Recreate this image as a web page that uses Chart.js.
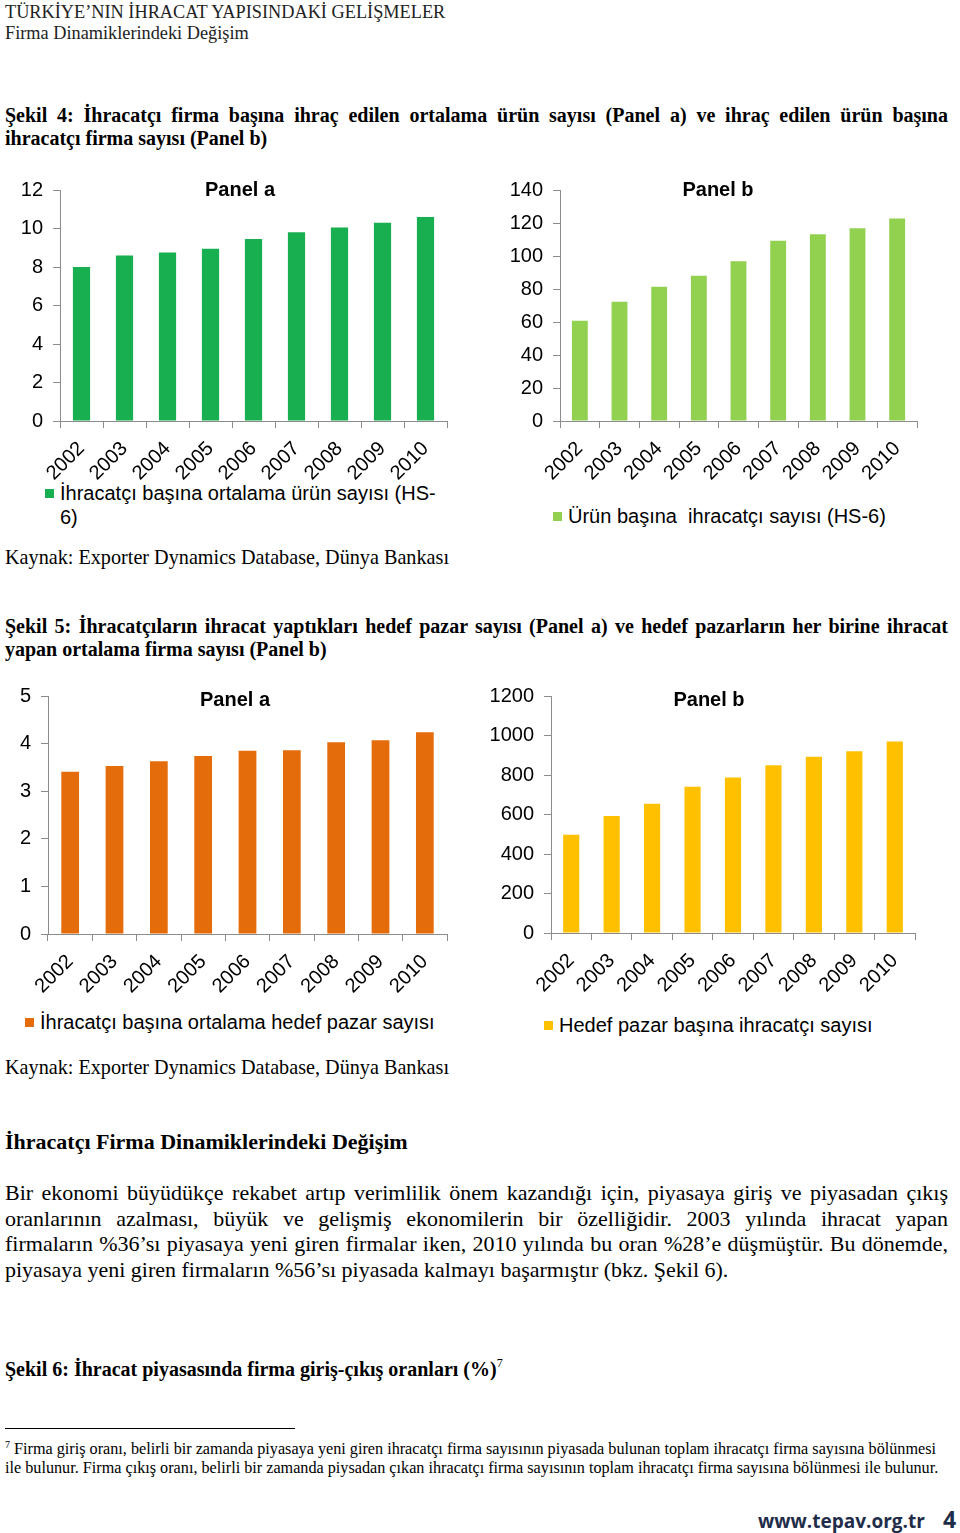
<!DOCTYPE html>
<html lang="tr">
<head>
<meta charset="utf-8">
<title>TÜRKİYE’NIN İHRACAT YAPISINDAKİ GELİŞMELER</title>
<script src="https://cdn.jsdelivr.net/npm/chart.js@4.4.1/dist/chart.umd.min.js"></script>
<style>
  html, body { margin: 0; padding: 0; background: #fff; }
  body { width: 960px; height: 1533px; position: relative; overflow: hidden; font-family: "Liberation Serif", "Times New Roman", serif; color: #000; }
  .abs { position: absolute; white-space: nowrap; }
  .hdr { font-size: 18.3px; line-height: 21px; color: #222; }
  .cap { font-size: 20px; line-height: 23px; font-weight: bold; left: 5px; width: 943px; }
  .just { text-align: justify; text-align-last: justify; }
  .src { font-size: 20.2px; line-height: 24px; left: 5px; }
  .para { font-size: 22px; line-height: 25.6px; left: 5px; width: 943px; }
  .foot { font-size: 16.2px; line-height: 19px; left: 5px; }
  .ptitle { font-family: "Liberation Sans", Arial, sans-serif; font-weight: bold; font-size: 20px; line-height: 22px; transform: translateX(-50%); }
  .leg { font-family: "Liberation Sans", Arial, sans-serif; font-size: 20px; line-height: 24px; white-space: pre; }
  .sw { position: absolute; width: 9px; height: 9px; }
  canvas { position: absolute; }
</style>
</head>
<body>
<div class="abs hdr" style="left:5px; top:2px;">TÜRKİYE’NIN İHRACAT YAPISINDAKİ GELİŞMELER</div>
<div class="abs hdr" style="left:5px; top:23px;">Firma Dinamiklerindeki Değişim</div>

<div class="abs cap just" style="top:104px;">Şekil 4: İhracatçı firma başına ihraç edilen ortalama ürün sayısı (Panel a) ve ihraç edilen ürün başına</div>
<div class="abs cap" style="top:127px;">ihracatçı firma sayısı (Panel b)</div>

<canvas id="c1" width="480" height="314" style="left:0px; top:167px;"></canvas>
<canvas id="c2" width="480" height="314" style="left:480px; top:167px;"></canvas>
<div class="abs ptitle" style="left:240px; top:178px;">Panel a</div>
<div class="abs ptitle" style="left:718px; top:178px;">Panel b</div>

<div class="sw" style="left:45px; top:489px; background:#17AF4F;"></div>
<div class="abs leg" style="left:60px; top:481px;">İhracatçı başına ortalama ürün sayısı (HS-<br>6)</div>
<div class="sw" style="left:553px; top:512px; background:#92D050;"></div>
<div class="abs leg" style="left:568px; top:504px;">Ürün başına  ihracatçı sayısı (HS-6)</div>

<div class="abs src" style="top:545px;">Kaynak: Exporter Dynamics Database, Dünya Bankası</div>

<div class="abs cap just" style="top:615px;">Şekil 5: İhracatçıların ihracat yaptıkları hedef pazar sayısı (Panel a) ve hedef pazarların her birine ihracat</div>
<div class="abs cap" style="top:638px;">yapan ortalama firma sayısı (Panel b)</div>

<canvas id="c3" width="480" height="321" style="left:0px; top:673px;"></canvas>
<canvas id="c4" width="480" height="320" style="left:480px; top:673px;"></canvas>
<div class="abs ptitle" style="left:235px; top:688px;">Panel a</div>
<div class="abs ptitle" style="left:709px; top:688px;">Panel b</div>

<div class="sw" style="left:25px; top:1018px; background:#E46C0A;"></div>
<div class="abs leg" style="left:40px; top:1010px;">İhracatçı başına ortalama hedef pazar sayısı</div>
<div class="sw" style="left:544px; top:1021px; background:#FFC000;"></div>
<div class="abs leg" style="left:559px; top:1013px;">Hedef pazar başına ihracatçı sayısı</div>

<div class="abs src" style="top:1055px;">Kaynak: Exporter Dynamics Database, Dünya Bankası</div>

<div class="abs" style="left:5px; top:1129px; font-size:22px; line-height:26px; font-weight:bold;">İhracatçı Firma Dinamiklerindeki Değişim</div>

<div class="abs para just" style="top:1180px;">Bir ekonomi büyüdükçe rekabet artıp verimlilik önem kazandığı için, piyasaya giriş ve piyasadan çıkış</div>
<div class="abs para just" style="top:1205.6px;">oranlarının azalması, büyük ve gelişmiş ekonomilerin bir özelliğidir. 2003 yılında ihracat yapan</div>
<div class="abs para just" style="top:1231.2px;">firmaların %36’sı piyasaya yeni giren firmalar iken, 2010 yılında bu oran %28’e düşmüştür. Bu dönemde,</div>
<div class="abs para" style="top:1256.8px;">piyasaya yeni giren firmaların %56’sı piyasada kalmayı başarmıştır (bkz. Şekil 6).</div>

<div class="abs cap" style="top:1358px;">Şekil 6: İhracat piyasasında firma giriş-çıkış oranları (%)<sup style="font-size:12px; font-weight:normal; vertical-align:9px; line-height:0;">7</sup></div>

<div style="position:absolute; left:5px; top:1428px; width:290px; height:1px; background:#000;"></div>
<div class="abs foot" style="top:1440px;"><sup style="font-size:10px; vertical-align:6px; line-height:0;">7</sup> Firma giriş oranı, belirli bir zamanda piyasaya yeni giren ihracatçı firma sayısının piyasada bulunan toplam ihracatçı firma sayısına bölünmesi</div>
<div class="abs foot" style="top:1459px;">ile bulunur. Firma çıkış oranı, belirli bir zamanda piysadan çıkan ihracatçı firma sayısının toplam ihracatçı firma sayısına bölünmesi ile bulunur.</div>

<div class="abs" style="left:758px; top:1508px; font-family:'Open Sans','Liberation Sans',sans-serif; font-weight:bold; font-size:19px; line-height:26px; color:#1F2D4A;">www.tepav.org.tr</div>
<div class="abs" style="left:943px; top:1504px; font-family:'Open Sans','Liberation Sans',sans-serif; font-weight:bold; font-size:23px; line-height:30px; color:#1F2D4A;">4</div>

<script>
// ---- data ----
const years = ['2002', '2003', '2004', '2005', '2006', '2007', '2008', '2009', '2010'];
const productsPerExporter = [8.0, 8.6, 8.75, 8.95, 9.45, 9.8, 10.05, 10.3, 10.6];
const exportersPerProduct = [60.7, 72.2, 81.3, 88.0, 96.8, 109.3, 113.2, 116.8, 122.7];
const marketsPerExporter = [3.41, 3.53, 3.63, 3.74, 3.85, 3.86, 4.03, 4.07, 4.24];
const exportersPerMarket = [497, 593, 654, 740, 787, 849, 893, 920, 969];

const seriesNames = [
  'İhracatçı başına ortalama ürün sayısı (HS-6)',
  'Ürün başına  ihracatçı sayısı (HS-6)',
  'İhracatçı başına ortalama hedef pazar sayısı',
  'Hedef pazar başına ihracatçı sayısı'
];
const yMax = [12, 140, 5, 1200];
const yStep = [2, 20, 1, 200];

Chart.defaults.font.family = "'Liberation Sans', Arial, sans-serif";
Chart.defaults.font.size = 20;
Chart.defaults.color = '#000';
Chart.defaults.animation = false;

const axisColor = '#8C8C8C';

function makeChart(id, values, name, color, max, step, yWidth, pad) {
  new Chart(document.getElementById(id), {
    type: 'bar',
    data: {
      labels: years,
      datasets: [{ label: name, data: values, backgroundColor: color, borderWidth: 0,
                   categoryPercentage: 1.0, barPercentage: 0.4 }]
    },
    options: {
      responsive: false,
      animation: false,
      layout: { padding: pad },
      plugins: { legend: { display: false }, tooltip: { enabled: false }, title: { display: false } },
      scales: {
        x: {
          offset: true,
          grid: { offset: true, drawOnChartArea: false, drawTicks: true, tickLength: 7, color: axisColor },
          border: { display: true, color: axisColor, width: 1 },
          ticks: { minRotation: 45, maxRotation: 45, autoSkip: false, padding: 9, font: { size: 20 } },
          afterFit: s => { s.height = 60; }
        },
        y: {
          min: 0, max: max,
          grid: { drawOnChartArea: false, drawTicks: true, tickLength: 7, color: axisColor },
          border: { display: true, color: axisColor, width: 1 },
          ticks: { stepSize: step, padding: 10, font: { size: 20 }, callback: v => String(v) },
          afterFit: s => { s.width = yWidth; }
        }
      }
    }
  });
}

makeChart('c1', productsPerExporter, seriesNames[0], '#17AF4F', yMax[0], yStep[0], 60, { top: 23, right: 33, left: 0, bottom: 0 });
makeChart('c2', exportersPerProduct, seriesNames[1], '#92D050', yMax[1], yStep[1], 80, { top: 23, right: 43, left: 0, bottom: 0 });
makeChart('c3', marketsPerExporter, seriesNames[2], '#E46C0A', yMax[2], yStep[2], 48, { top: 23, right: 33, left: 0, bottom: 0 });
makeChart('c4', exportersPerMarket, seriesNames[3], '#FFC000', yMax[3], yStep[3], 71, { top: 23, right: 45, left: 0, bottom: 0 });
</script>
</body>
</html>
